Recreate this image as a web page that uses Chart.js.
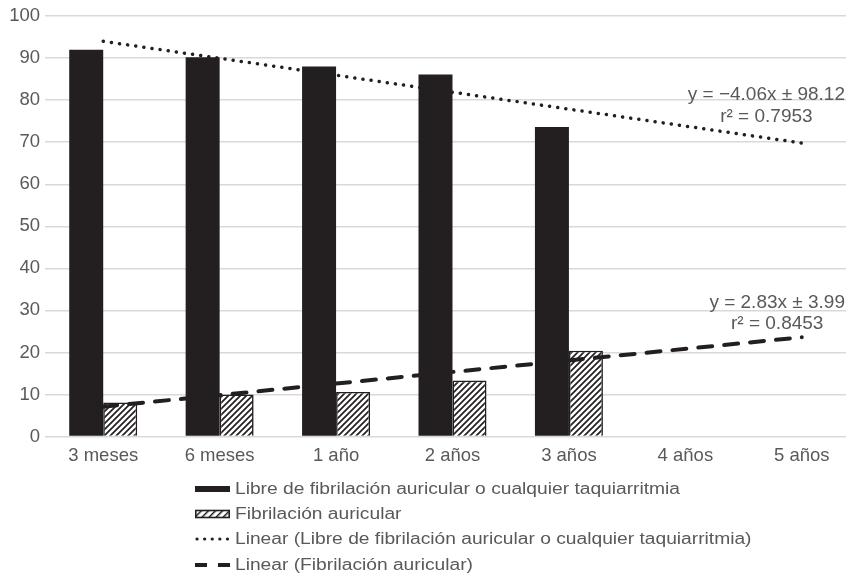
<!DOCTYPE html>
<html>
<head>
<meta charset="utf-8">
<script src="https://cdn.jsdelivr.net/npm/chart.js@4"></script>
<style>
    html, body { margin: 0; padding: 0; background: #fff; overflow: hidden; width: 846px; height: 579px; }
    .chart-box { position: absolute; left: 0; top: 0; width: 860px; height: 480px; }
    .legend { position: absolute; left: 195px; top: 476px; font-family: "Liberation Sans", Arial, sans-serif; font-size: 16px; color: #595959; white-space: nowrap; }
    .legend-row { height: 25.3px; display: flex; align-items: center; }
    .legend-row svg { margin-right: 5px; flex: none; }
    .legend-row span { display: inline-block; transform: scaleX(1.2); transform-origin: left center; }
</style>
</head>
<body>
<div class="chart-box"><canvas id="afChart"></canvas></div>
<div class="legend" id="afLegend"></div>

<script>
// datos del gráfico
const categories = ['3 meses', '6 meses', '1 año', '2 años', '3 años', '4 años', '5 años'];
const libreValues = [92.0, 90.2, 88.0, 86.1, 73.6, null, null];
const fibrilacionValues = [8.1, 10.0, 10.6, 13.3, 20.4, null, null];
// líneas de tendencia: solo extremos
const trendLibre = [94.0, null, null, null, null, null, 69.8];
const trendFibrilacion = [7.1, null, null, null, null, null, 23.6];
const yTickMin = 0;
const yTickMax = 100;
const yTickStep = 10;

const seriesNames = [
    'Libre de fibrilación auricular o cualquier taquiarritmia',
    'Fibrilación auricular',
    'Linear (Libre de fibrilación auricular o cualquier taquiarritmia)',
    'Linear (Fibrilación auricular)'
];
const equationLabels = [
    { lines: ['y = \u22124.06x \u00b1 98.12', 'r\u00b2 = 0.7953'], values: [81.2, 76.0] },
    { lines: ['y = 2.83x \u00b1 3.99', 'r\u00b2 = 0.8453'], values: [31.9, 26.9] }
];

const DARK = '#231f20';
const TEXT = '#595959';
const FONT = '"Liberation Sans", Arial, sans-serif';

function makeHatch() {
    const c = document.createElement('canvas');
    c.width = 6;
    c.height = 6;
    const g = c.getContext('2d');
    g.fillStyle = '#fff';
    g.fillRect(0, 0, 6, 6);
    g.strokeStyle = DARK;
    g.lineWidth = 1.7;
    g.beginPath();
    g.moveTo(0, 6); g.lineTo(6, 0);
    g.moveTo(-3, 3); g.lineTo(3, -3);
    g.moveTo(3, 9); g.lineTo(9, 3);
    g.stroke();
    return g.createPattern(c, 'repeat');
}

// etiquetas de las ecuaciones
const equationPlugin = {
    id: 'equations',
    afterDatasetsDraw(chart) {
        const ctx = chart.ctx;
        const y = chart.scales.y;
        const right = 845;
        ctx.save();
        ctx.font = '19px ' + FONT;
        ctx.fillStyle = TEXT;
        ctx.textAlign = 'center';
        ctx.textBaseline = 'middle';
        equationLabels.forEach(lbl => {
            const w = Math.max(...lbl.lines.map(t => ctx.measureText(t).width));
            const cx = right - w / 2;
            lbl.lines.forEach((t, i) => ctx.fillText(t, cx, y.getPixelForValue(lbl.values[i])));
        });
        ctx.restore();
    }
};

const ctx = document.getElementById('afChart').getContext('2d');
const chartInstance = new Chart(ctx, {
    data: {
        labels: categories,
        datasets: [
            {
                type: 'line',
                label: seriesNames[2],
                data: trendLibre,
                spanGaps: true,
                borderColor: DARK,
                borderWidth: 3.5,
                borderDash: [0.1, 8.1],
                borderCapStyle: 'round',
                pointRadius: 0,
                order: 0
            },
            {
                type: 'line',
                label: seriesNames[3],
                data: trendFibrilacion,
                spanGaps: true,
                borderColor: DARK,
                borderWidth: 4,
                borderDash: [14, 12],
                borderCapStyle: 'round',
                pointRadius: 0,
                order: 0
            },
            {
                type: 'bar',
                label: seriesNames[0],
                data: libreValues,
                backgroundColor: DARK,
                borderWidth: 0,
                barPercentage: 1.0,
                categoryPercentage: 0.584,
                order: 1
            },
            {
                type: 'bar',
                label: seriesNames[1],
                data: fibrilacionValues,
                backgroundColor: makeHatch(),
                borderColor: DARK,
                borderWidth: 1.6,
                barPercentage: 1.0,
                categoryPercentage: 0.584,
                order: 1
            }
        ]
    },
    options: {
        responsive: true,
        maintainAspectRatio: false,
        animation: false,
        layout: { padding: { top: 16, right: 0, bottom: 0, left: 0 } },
        scales: {
            x: {
                grid: { display: false, drawTicks: false },
                border: { display: false },
                ticks: { color: TEXT, font: { family: FONT, size: 18.5 }, padding: 8, maxRotation: 0 },
                afterFit(scale) { scale.height = 43.5; }
            },
            y: {
                min: yTickMin,
                max: yTickMax,
                grid: { color: '#d9d9d9', lineWidth: 1.5, drawTicks: false },
                border: { display: false },
                ticks: { stepSize: yTickStep, color: TEXT, font: { family: FONT, size: 18.5 }, padding: 5 },
                afterFit(scale) { scale.width = 45; }
            }
        },
        plugins: {
            legend: { display: false },
            tooltip: { enabled: false }
        }
    },
    plugins: [equationPlugin]
});

// leyenda en HTML
const legendSymbols = [
    '<svg width="35" height="10"><rect x="0" y="2" width="35" height="6" fill="' + DARK + '"/></svg>',
    '<svg width="35" height="10"><defs><pattern id="h" width="5" height="5" patternUnits="userSpaceOnUse" patternTransform="rotate(45)"><rect width="5" height="5" fill="#fff"/><line x1="0" y1="0" x2="0" y2="5" stroke="' + DARK + '" stroke-width="3"/></pattern></defs><rect x="0.8" y="1.5" width="33.4" height="7" fill="url(#h)" stroke="' + DARK + '" stroke-width="1.6"/></svg>',
    '<svg width="35" height="10"><line x1="2" y1="5" x2="34" y2="5" stroke="' + DARK + '" stroke-width="3.2" stroke-linecap="round" stroke-dasharray="0.1 7.5"/></svg>',
    '<svg width="35" height="10"><line x1="0" y1="5" x2="35" y2="5" stroke="' + DARK + '" stroke-width="4" stroke-dasharray="12 11"/></svg>'
];
document.getElementById('afLegend').innerHTML = seriesNames
    .map((name, i) => `<div class="legend-row">${legendSymbols[i]}<span>${name}</span></div>`)
    .join('');
</script>
</body>
</html>
